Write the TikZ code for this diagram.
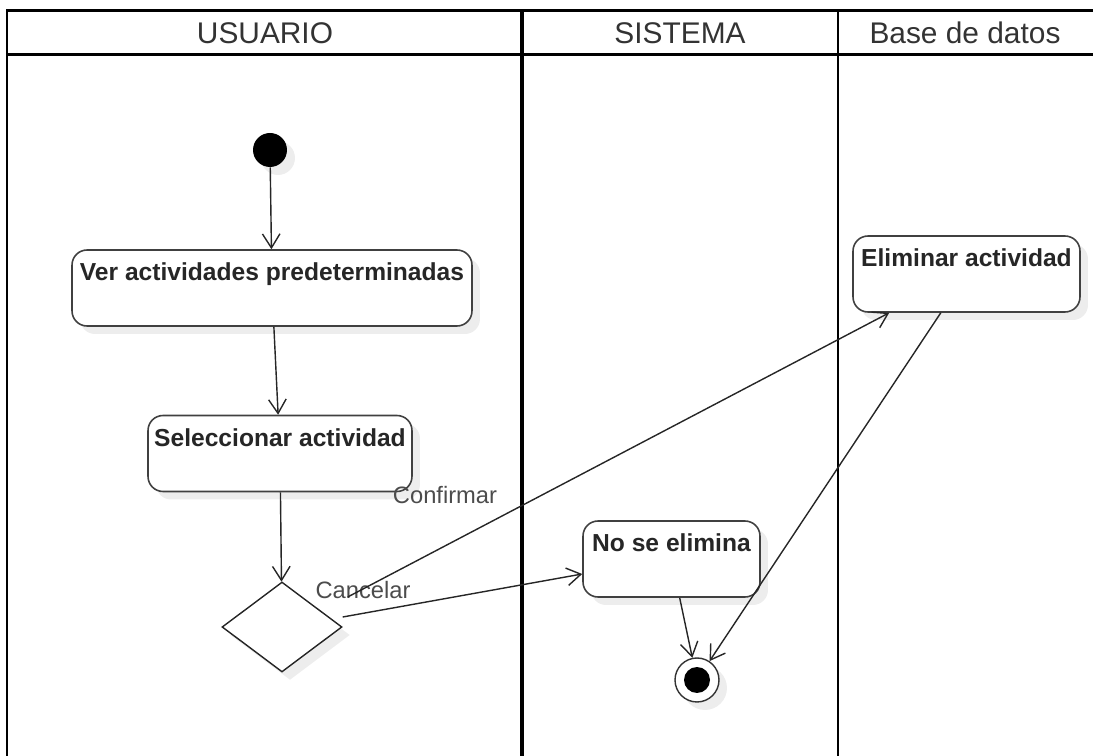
\documentclass[tikz,border=0pt]{standalone}
\usepackage{fontspec}
\setmainfont{Liberation Sans}
\usetikzlibrary{shapes.geometric,arrows.meta,shadows}

\begin{document}
\begin{tikzpicture}[x=0.02cm, y=-0.02cm,
        shade/.style={drop shadow={shadow xshift=0.16cm, shadow yshift=-0.16cm, fill=black!7, opacity=1}},
        activity/.style={rectangle, rounded corners=0.3cm, draw=black!75, line width=0.9pt, fill=white, inner sep=0pt, text height=17.5pt, text depth=25.5pt, minimum height=1.52cm, font=\fontsize{14}{16}\selectfont\bfseries, text=black!85, shade},
        decision/.style={diamond, draw=black!85, line width=0.8pt, fill=white, inner sep=0pt, minimum width=2.4cm, minimum height=1.8cm, shade},
        initial/.style={circle, fill=black, inner sep=0pt, minimum size=0.68cm, shade},
        final/.style={circle, draw=black!80, line width=0.8pt, fill=white, inner sep=0pt, minimum size=0.88cm, shade},
        lanetitle/.style={font=\fontsize{17}{20}\selectfont, text=black!80},
        guard/.style={font=\fontsize{13.5}{16}\selectfont, text=black!70},
        flow/.style={draw=black!85, line width=0.8pt, -{Straight Barb[length=8pt, width=10pt, line width=0.8pt]}}
    ]
        \useasboundingbox (0,0) rectangle (1093,756);

        % Swimlanes
        \draw[line width=1.7pt] (7,756) -- (7,11) -- (1093,11);
        \draw[line width=1.7pt] (7,55) -- (1093,55);
        \draw[line width=2.8pt] (522,11) -- (522,756);
        \draw[line width=1.3pt] (838,11) -- (838,756);
        \node[lanetitle] (usuario) at (265,33) {USUARIO};
        \node[lanetitle] (sistema) at (680,33) {SISTEMA};
        \node[lanetitle] (bd) at (965,33) {Base de datos};

        % Nodes
        \node[initial] (start) at (270,150) {};
        \node[activity, minimum width=8cm] (ver) at (272,288) {Ver actividades predeterminadas};
        \node[activity, minimum width=5.28cm] (sel) at (280,453.5) {Seleccionar actividad};
        \node[decision] (dec) at (282,627) {};
        \node[activity, minimum width=3.54cm] (nose) at (671.5,559) {No se elimina};
        \node[activity, minimum width=4.54cm] (elim) at (966.5,274) {Eliminar actividad};
        \node[final] (end) at (697,680) {};
        \node[circle, fill=black, inner sep=0pt, minimum size=0.52cm] (endin) at (end) {};

        % Guards
        \node[guard] (conf) at (445,495) {Confirmar};
        \node[guard] (canc) at (363,590) {Cancelar};

        % Connections
        \draw[flow] (start) -- (ver);
        \draw[flow] (ver) -- (sel);
        \draw[flow] (sel) -- (dec);
        \draw[flow] ([shift={(0.1cm,0.6cm)}]dec.east) -- ([xshift=0.74cm]elim.south west);
        \draw[flow] ([yshift=0.2cm]dec.east) -- ([yshift=-0.3cm]nose.west);
        \draw[flow] (nose) -- (end);
        \draw[flow] (elim) -- (end);
    \end{tikzpicture}
\end{document}
